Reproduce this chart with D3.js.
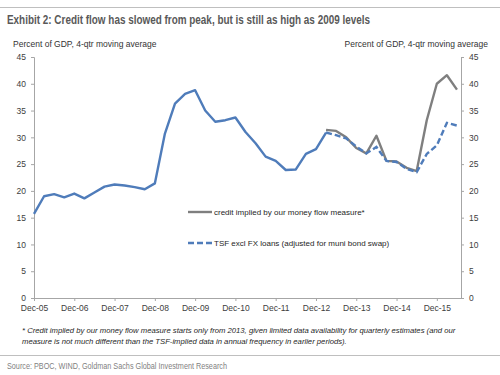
<!DOCTYPE html>
<html>
<head>
<meta charset="utf-8">
<script src="https://cdn.jsdelivr.net/npm/d3@7"></script>
<style>
  body { margin: 0; background: #fff; }
  svg text { font-family: "Liberation Sans", Arial, sans-serif; }
</style>
</head>
<body>
<svg id="chart" width="500" height="375"></svg>
<script>
// quarterly points, Dec-05 = index 0 ... Jun-16 = index 42
var tsfSolid = [15.7, 19.0, 19.4, 18.8, 19.5, 18.6, 19.7, 20.8, 21.2, 21.0,
                20.7, 20.3, 21.4, 30.7, 36.3, 38.1, 38.8, 35.0, 32.9, 33.2,
                33.7, 31.0, 28.9, 26.4, 25.6, 23.9, 24.0, 26.9, 27.8, 30.9];
// dashed part from index 29
var tsfDashed = [30.9, 30.4, 29.8, 28.3, 27.0, 28.2, 25.6, 25.4, 24.1, 23.5,
                 26.9, 28.5, 32.7, 32.2];
// money flow measure, from index 29
var moneyFlow = [31.4, 31.2, 30.0, 28.0, 27.0, 30.3, 25.6, 25.5, 24.3, 23.7,
                 33.2, 40.0, 41.6, 38.9];
var dashedStart = 29;

var tickLabels = ["Dec-05", "Dec-06", "Dec-07", "Dec-08", "Dec-09", "Dec-10",
                  "Dec-11", "Dec-12", "Dec-13", "Dec-14", "Dec-15"];
var yTicks = [0, 5, 10, 15, 20, 25, 30, 35, 40, 45];

var legendLabels = ["credit implied by our money flow measure*",
                    "TSF excl FX loans (adjusted for muni bond swap)"];

var svg = d3.select("#chart");

var plot = { left: 34, right: 461, top: 57, bottom: 298 };

var x = d3.scaleLinear().domain([0, 42.4]).range([plot.left, plot.right]);
var y = d3.scaleLinear().domain([0, 45]).range([plot.bottom, plot.top]);

var blue = "#4f7cba";
var grey = "#7f7f7f";
var axisColor = "#a6a6a6";
var textColor = "#404040";

// rules top / bottom
svg.append("line").attr("x1", 0).attr("x2", 500).attr("y1", 7.5).attr("y2", 7.5)
    .attr("stroke", "#bfbfbf").attr("stroke-width", 1);
svg.append("line").attr("x1", 0).attr("x2", 500).attr("y1", 355.5).attr("y2", 355.5)
    .attr("stroke", "#bfbfbf").attr("stroke-width", 1);

svg.append("text")
    .attr("x", 7).attr("y", 24)
    .style("font-family", "'Liberation Sans Narrow', 'Liberation Sans', sans-serif")
    .style("font-weight", "bold")
    .style("font-size", "12.5px")
    .attr("fill", "#595959")
    .attr("textLength", 363).attr("lengthAdjust", "spacingAndGlyphs")
    .text("Exhibit 2: Credit flow has slowed from peak, but is still as high as 2009 levels");

svg.append("text")
    .attr("x", 13).attr("y", 47)
    .style("font-size", "8.5px").attr("fill", "#333")
    .text("Percent of GDP, 4-qtr moving  average");
svg.append("text")
    .attr("x", 488).attr("y", 47).attr("text-anchor", "end")
    .style("font-size", "8.5px").attr("fill", "#333")
    .text("Percent of GDP, 4-qtr moving  average");

// axes
var yLeft = d3.axisLeft(y).tickValues(yTicks).tickSize(3).tickPadding(5);
var yRight = d3.axisRight(y).tickValues(yTicks).tickSize(3).tickPadding(5);
var xAxis = d3.axisBottom(x)
    .tickValues(tickLabels.map(function (d, i) { return i * 4; }))
    .tickFormat(function (d, i) { return tickLabels[i]; })
    .tickSize(3).tickPadding(4).tickSizeOuter(0);

function styleAxis(g) {
    g.select(".domain").attr("stroke", axisColor);
    g.selectAll(".tick line").attr("stroke", axisColor);
    g.selectAll(".tick text").attr("fill", textColor)
        .style("font-size", "8.5px")
        .style("font-family", "'Liberation Sans', Arial, sans-serif");
}

svg.append("g").attr("transform", "translate(" + plot.left + ",0)")
    .call(yLeft).call(styleAxis);
svg.append("g").attr("transform", "translate(" + plot.right + ",0)")
    .call(yRight).call(styleAxis);
svg.append("g").attr("transform", "translate(0," + plot.bottom + ")")
    .call(xAxis).call(styleAxis);

// lines
var line = d3.line()
    .x(function (d) { return x(d.i); })
    .y(function (d) { return y(d.v); });

function indexed(arr, start) {
    return arr.map(function (v, k) { return { i: start + k, v: v }; });
}

svg.append("path")
    .datum(indexed(moneyFlow, dashedStart))
    .attr("d", line).attr("fill", "none")
    .attr("stroke", grey).attr("stroke-width", 2.4)
    .attr("stroke-linejoin", "round");

svg.append("path")
    .datum(indexed(tsfSolid, 0))
    .attr("d", line).attr("fill", "none")
    .attr("stroke", blue).attr("stroke-width", 2.4)
    .attr("stroke-linejoin", "round");

svg.append("path")
    .datum(indexed(tsfDashed, dashedStart))
    .attr("d", line).attr("fill", "none")
    .attr("stroke", blue).attr("stroke-width", 2.4)
    .attr("stroke-dasharray", "6,3");

// legend
var legend = svg.append("g").attr("transform", "translate(188,212)");
legendLabels.forEach(function (label, k) {
    var g = legend.append("g").attr("transform", "translate(0," + (k * 31) + ")");
    g.append("line").attr("x1", 0).attr("x2", 24).attr("y1", 0).attr("y2", 0)
        .attr("stroke", k === 0 ? grey : blue).attr("stroke-width", 2.4)
        .attr("stroke-dasharray", k === 0 ? null : "6,3");
    g.append("text").attr("x", 26).attr("y", 3)
        .style("font-size", "8px").attr("fill", "#262626")
        .text(label);
});

// footnote
var foot = svg.append("g").style("font-style", "italic")
    .style("font-size", "7.7px").attr("fill", "#262626");
foot.append("text").attr("x", 22).attr("y", 333)
    .text("* Credit implied by our money flow measure starts only from 2013, given limited data availability for quarterly estimates (and our");
foot.append("text").attr("x", 22).attr("y", 344)
    .text("measure is not much different than the TSF-implied data in annual frequency in earlier periods).");

svg.append("text")
    .attr("x", 7).attr("y", 369)
    .style("font-family", "'Liberation Sans Narrow', 'Liberation Sans', sans-serif")
    .style("font-size", "9.5px").attr("fill", "#7f7f7f")
    .attr("textLength", 220).attr("lengthAdjust", "spacingAndGlyphs")
    .text("Source: PBOC, WIND, Goldman Sachs Global Investment Research");
</script>
</body>
</html>
